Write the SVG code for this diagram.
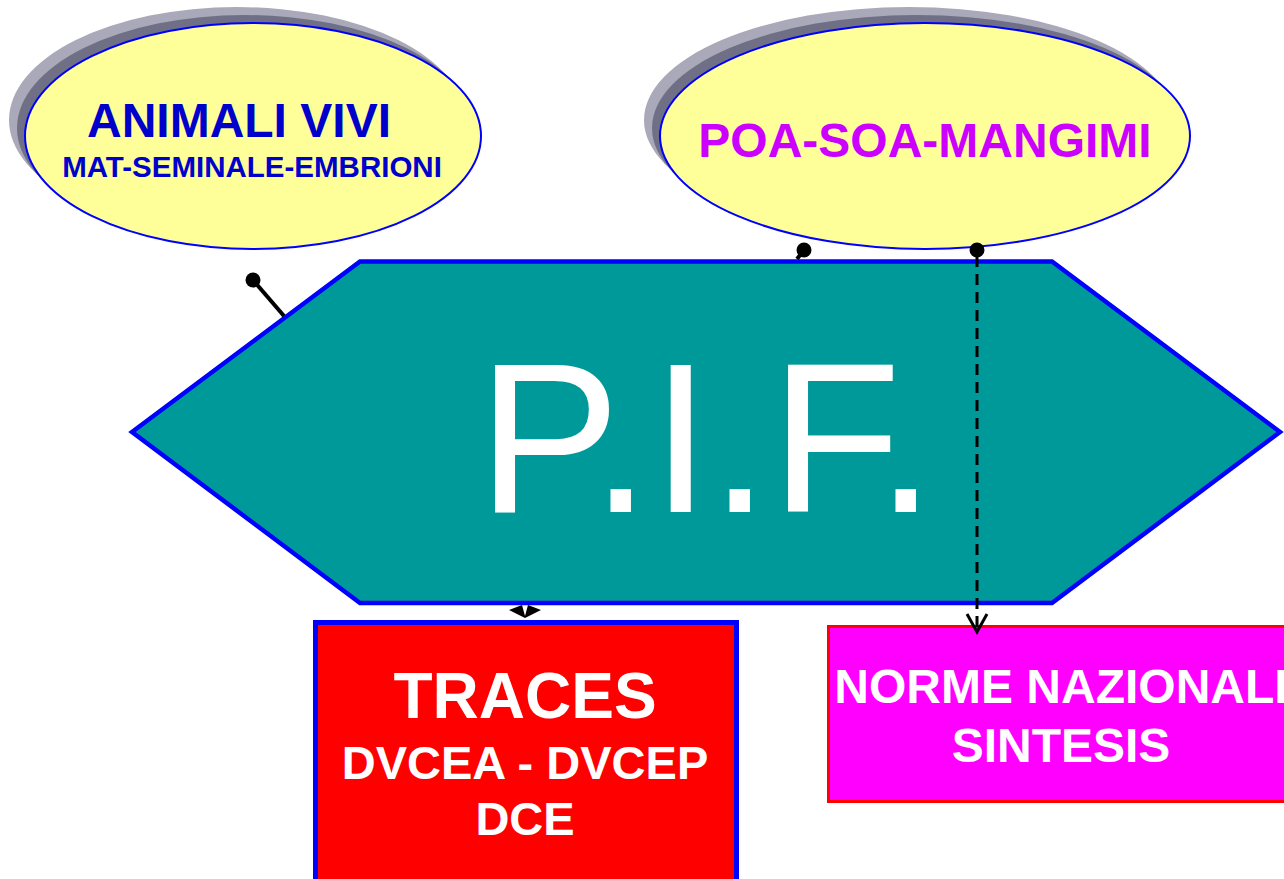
<svg xmlns="http://www.w3.org/2000/svg" width="1284" height="879" viewBox="0 0 1284 879">
<defs>
<style>
.shL{fill:#a9a9ba}
.shD{fill:#6f6f86}
.ell{fill:#ffff99;stroke:#0000ff;stroke-width:2}
.b{font-family:"Liberation Sans",Arial,sans-serif;font-weight:bold;text-anchor:middle}
.w{fill:#ffffff}
.conn{stroke:#000;stroke-width:4;fill:none}
.dot{fill:#000}
</style>
<marker id="vhead" markerWidth="24" markerHeight="24" refX="20" refY="12" orient="auto" markerUnits="userSpaceOnUse" viewBox="0 0 24 24">
<path d="M2,2 L20,12 L2,22" fill="none" stroke="#000" stroke-width="3"/>
</marker>
</defs>
<rect width="1284" height="879" fill="#ffffff"/>

<g id="node-animali">
<ellipse class="shL" cx="237" cy="120" rx="228" ry="113"/>
<ellipse class="shD" cx="245" cy="128" rx="228" ry="113"/>
<ellipse class="ell" cx="253" cy="136" rx="228" ry="113"/>
<text class="b" x="239" y="137" font-size="48" fill="#0000cc">ANIMALI VIVI</text>
<text class="b" x="252" y="177" font-size="29.5" fill="#0000cc">MAT-SEMINALE-EMBRIONI</text>
</g>

<g id="node-poa">
<ellipse class="shL" cx="909" cy="120" rx="265" ry="113"/>
<ellipse class="shD" cx="917" cy="128" rx="265" ry="113"/>
<ellipse class="ell" cx="925" cy="136" rx="265" ry="113"/>
<text class="b" x="925" y="157" font-size="48" fill="#cc00ff">POA-SOA-MANGIMI</text>
</g>

<g id="node-pif">
<polygon points="132,432 360,261.5 1052,261.5 1280,432 1052,603 360,603" fill="#009999" stroke="#0000ff" stroke-width="4.5"/>
<text x="477.5 591 651 710 770.5 876" y="512" font-family="'Liberation Sans',Arial,sans-serif" font-size="214" fill="#ffffff">P.I.F.</text>
</g>

<g id="node-traces">
<rect x="315.5" y="622.5" width="421" height="270" fill="#ff0000" stroke="#0000ff" stroke-width="5"/>
<text class="b w" x="525" y="718" font-size="64">TRACES</text>
<text class="b w" x="525" y="779" font-size="47">DVCEA - DVCEP</text>
<text class="b w" x="525" y="835" font-size="47">DCE</text>
</g>

<g id="node-norme">
<rect x="828.5" y="626.5" width="470" height="175" fill="#ff00ff" stroke="#ff0000" stroke-width="3"/>
<text class="b w" x="1061" y="703" font-size="48">NORME NAZIONALI</text>
<text class="b w" x="1061" y="762" font-size="48">SINTESIS</text>
</g>

<g id="connectors">
<line class="conn" x1="253" y1="280" x2="284" y2="316"/>
<circle class="dot" cx="253" cy="280" r="7.5"/>
<path d="M804,250 L797,259" class="conn" stroke-width="3"/>
<circle class="dot" cx="804" cy="250" r="7.5"/>
<circle class="dot" cx="977" cy="250" r="7.5"/>
<line x1="977" y1="256" x2="977" y2="632" stroke="#000" stroke-width="3" stroke-dasharray="11,7" marker-end="url(#vhead)"/>
<path d="M509,610 L522,605 L525,616 L528,605 L541,610 L525,618 Z" fill="#000"/>
</g>
</svg>
